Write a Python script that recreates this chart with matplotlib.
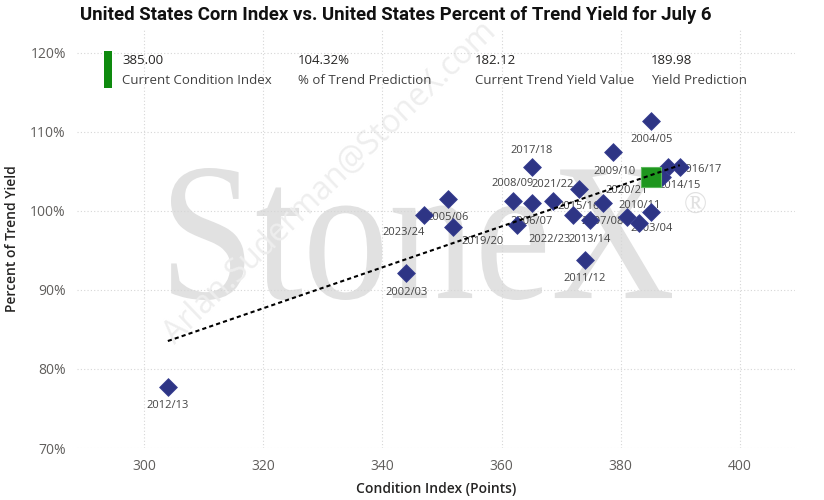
import numpy as np
import matplotlib
matplotlib.use("Agg")
import matplotlib.pyplot as plt
from matplotlib.textpath import TextPath
from matplotlib.patches import PathPatch, Rectangle
from matplotlib.font_manager import FontProperties
from matplotlib.transforms import Affine2D

# season data
seasons = ["2012/13", "2002/03", "2023/24", "2005/06", "2019/20", "2008/09",
           "2017/18", "2006/07", "2021/22", "2022/23", "2015/16", "",
           "2013/14", "2007/08", "2011/12", "2009/10", "2004/05", "",
           "2016/17", "2014/15", "2020/21", "2010/11", "2003/04"]
condition = [304.0, 344.0, 346.9, 351.0, 351.8, 361.9,
             365.1, 365.1, 368.6, 362.6, 373.0, 372.0,
             374.8, 377.0, 374.0, 378.7, 385.1, 387.9,
             389.9, 386.9, 381.0, 383.1, 385.1]
pct_trend = [77.7, 92.1, 99.5, 101.5, 97.9, 101.3,
             105.6, 101.0, 101.3, 98.2, 102.8, 99.5,
             98.8, 101.0, 93.8, 107.4, 111.4, 105.5,
             105.5, 104.3, 99.2, 98.5, 99.9]

current_index = 385.00
current_pct = 104.32

kpi_values = ["385.00", "104.32%", "182.12", "189.98"]
kpi_names = ["Current Condition Index", "% of Trend Prediction",
             "Current Trend Yield Value", "Yield Prediction"]

# label placement (pixels, relative to the marker)
label_dx = [0, 0, -20, 0, 30, 0, 0, 0, 0, 33, 0, 0, 0, 0, 0, 2, 0, 0, 21, 18, 0, 0, 0]
label_dy = [18, 19, 18, 19, 14, -17, -16, 19, -16, 14, 18, 0, 19, 19, 19, 19, 19, 0, 2, 9, -27, -17, 17]

W, H = 824, 500
fig = plt.figure(figsize=(W / 100, H / 100), dpi=100)
fig.patch.set_facecolor("white")

# big StoneX watermark
tp = TextPath((0, 0), "StoneX", size=1, prop=FontProperties(family="Liberation Serif"))
ext = tp.get_extents()
x0, x1, y0, y1 = 171, 672, 168, 300
tr = (Affine2D().translate(-ext.x0, -ext.y0)
      .scale((x1 - x0) / ext.width, (y1 - y0) / ext.height)
      .translate(x0, H - y1))
fig.add_artist(PathPatch(tp, transform=tr, facecolor="#E1E1E1", edgecolor="none", zorder=-2))
fig.text(695 / W, 1 - 205 / H, "®", fontsize=22, family="Liberation Serif",
         color="#E1E1E1", ha="center", va="center", zorder=-2)

# email watermark
fig.text(330 / W, 1 - 183 / H, "Arlan.Suderman@StoneX.com", fontsize=23,
         family="Open Sans", color="#EEEEEE", rotation=44,
         ha="center", va="center", rotation_mode="anchor", zorder=-1)

ax = fig.add_axes([77 / W, 52 / H, 718 / W, 418 / H])
ax.patch.set_alpha(0)
ax.set_xlim(288.76, 409.23)
ax.set_ylim(70, 122.87)

ax.set_xticks(np.arange(300, 401, 20))
ax.set_yticks(np.arange(70, 121, 10))
ax.set_yticklabels([f"{v}%" for v in range(70, 121, 10)])
ax.tick_params(length=0, labelsize=10, labelcolor="#605E5C", pad=8)
for lab in ax.get_xticklabels() + ax.get_yticklabels():
    lab.set_family("Open Sans")
ax.grid(True, color="#D6D6D6", linestyle=(0, (1, 2)), linewidth=0.8)
for s in ax.spines.values():
    s.set_visible(False)

ax.set_xlabel("Condition Index (Points)", fontsize=10, family="Open Sans",
              fontweight="semibold", color="#252423", labelpad=6)
ax.set_ylabel("Percent of Trend Yield", fontsize=10, family="Open Sans",
              fontweight="semibold", color="#252423", labelpad=8)

ax.scatter(condition, pct_trend, marker="D", s=82, color="#2E3585",
           edgecolors="#3A4193", linewidths=0.6, zorder=3)
ax.scatter([current_index], [current_pct], marker="s", s=190, color="#1E961E",
           edgecolors="#5CB85C", linewidths=0.8, zorder=4)

for x, y, s, dx, dy in zip(condition, pct_trend, seasons, label_dx, label_dy):
    if s:
        ax.annotate(s, (x, y), xytext=(dx * 0.72, -dy * 0.72), textcoords="offset points",
                    ha="center", va="center", fontsize=8, family="Open Sans",
                    color="#444444", zorder=2.5)

# linear trend
k, b = np.polyfit(condition, pct_trend, 1)
xs = np.array([min(condition), max(condition)])
ax.plot(xs, k * xs + b, color="black", linewidth=1.5, dashes=(2, 1.5), zorder=5)

# title
fig.text(396 / W, 1 - 15 / H,
         "United States Corn Index vs. United States Percent of Trend Yield for July 6",
         ha="center", va="center", fontsize=13.4, fontweight="bold",
         family="Roboto", color="#111111")

# KPI strip
fig.add_artist(Rectangle((104 / W, 1 - 88 / H), 8 / W, 37 / H, transform=fig.transFigure,
                         facecolor="#0E8A0E", edgecolor="none"))
for xp, v, n in zip([122, 298, 475, 651], kpi_values, kpi_names):
    fig.text(xp / W, 1 - 61 / H, v, fontsize=9.5, family="Open Sans",
             color="#252423", va="center", ha="left")
    fig.text(xp / W, 1 - 80 / H, n, fontsize=9.5, family="Open Sans",
             color="#404040", va="center", ha="left")

fig.savefig("out.png", dpi=100)
